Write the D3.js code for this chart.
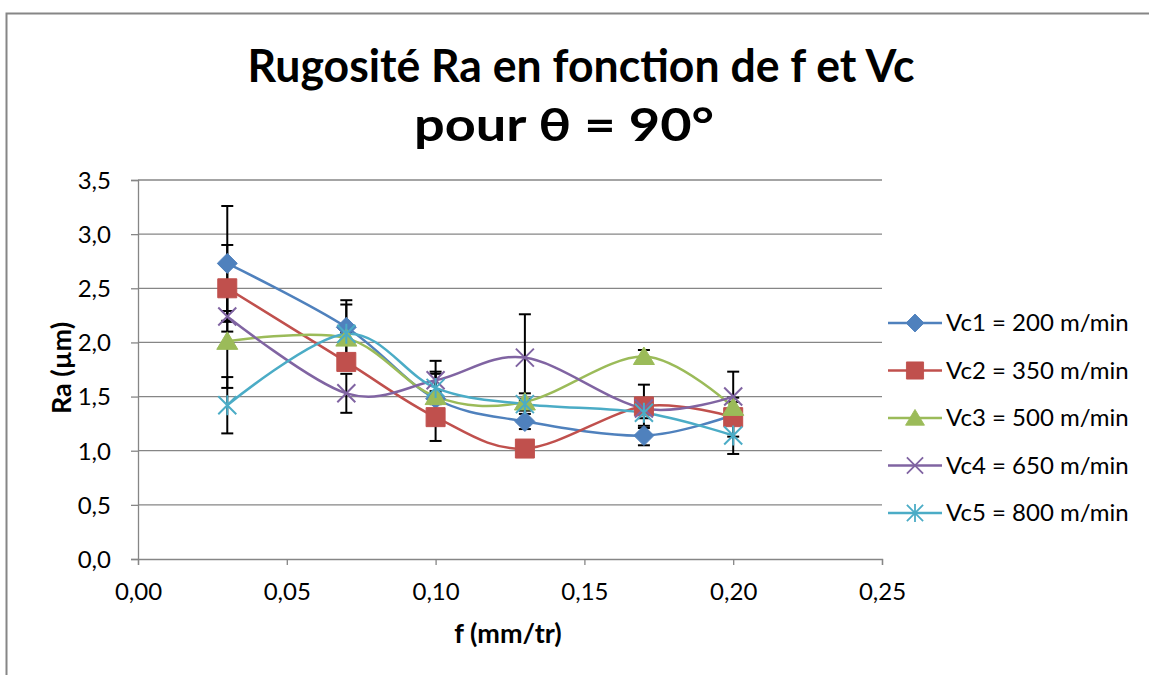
<!DOCTYPE html>
<html>
<head>
<meta charset="utf-8">
<script src="https://cdn.jsdelivr.net/npm/d3@7"></script>
<style>
  html, body { margin: 0; background: #fff; overflow: hidden; }
  svg { display: block; font-family: Lato, "Open Sans", sans-serif; }
</style>
</head>
<body>
<svg id="chart" width="1149" height="675"></svg>
<script>
// feed rate (mm/tr)
const feeds = [0.03, 0.07, 0.10, 0.13, 0.17, 0.20];

// Ra values per cutting speed
const vc1 = [2.73, 2.14, 1.48, 1.27, 1.14, 1.33];
const vc2 = [2.50, 1.82, 1.31, 1.02, 1.41, 1.31];
const vc3 = [2.01, 2.04, 1.50, 1.45, 1.87, 1.40];
const vc4 = [2.24, 1.53, 1.65, 1.86, 1.39, 1.50];
const vc5 = [1.42, 2.08, 1.58, 1.43, 1.35, 1.14];

// error bar half-widths
const err1 = [0.53, 0.25, 0.23, 0.07, 0.09, 0.05];
const err2 = [0.40, 0.05, 0.22, 0.03, 0.20, 0.18];
const err3 = [0.43, 0.05, 0.05, 0.08, 0.06, 0.05];
const err4 = [0.05, 0.18, 0.18, 0.40, 0.05, 0.23];
const err5 = [0.26, 0.27, 0.15, 0.05, 0.05, 0.17];

const seriesNames = ['Vc1 = 200 m/min', 'Vc2 = 350 m/min', 'Vc3 = 500 m/min', 'Vc4 = 650 m/min', 'Vc5 = 800 m/min'];
const seriesColors = ['#4F81BD', '#C0504D', '#9BBB59', '#8064A2', '#4BACC6'];
const seriesMarkers = ['diamond', 'square', 'triangle', 'cross', 'star'];

const xTicks = [0, 0.05, 0.10, 0.15, 0.20, 0.25];
const yTicks = [0, 0.5, 1.0, 1.5, 2.0, 2.5, 3.0, 3.5];

const values = [vc1, vc2, vc3, vc4, vc5];
const errors = [err1, err2, err3, err4, err5];
const series = seriesNames.map((name, i) => ({
    name: name,
    color: seriesColors[i],
    marker: seriesMarkers[i],
    points: feeds.map((f, j) => ({x: f, y: values[i][j], e: errors[i][j]}))
}));

const svg = d3.select('#chart');
const margin = {left: 138, right: 267, top: 180, bottom: 116};
const width = 1149, height = 675;

const x = d3.scaleLinear().domain([0, 0.25]).range([margin.left, width - margin.right]);
const y = d3.scaleLinear().domain([0, 3.5]).range([height - margin.bottom, margin.top]);
const fmt = (d, n) => d.toFixed(n).replace('.', ',');
const grey = '#868686';

// chart frame (runs off the bottom/right edge like the screenshot)
svg.append('path')
    .attr('d', 'M6.5,680 L6.5,13.5 L1155,13.5')
    .attr('fill', 'none').attr('stroke', grey).attr('stroke-width', 2);

// title
const title = svg.append('text').attr('text-anchor', 'middle')
    .attr('font-weight', 'bold').attr('font-size', 45).attr('fill', '#000');
title.append('tspan').attr('x', 581).attr('y', 82)
    .attr('textLength', 667).attr('lengthAdjust', 'spacingAndGlyphs')
    .text('Rugosité Ra en fonction de f et Vc');
title.append('tspan').attr('x', 564).attr('y', 141)
    .attr('textLength', 300).attr('lengthAdjust', 'spacingAndGlyphs')
    .text('pour θ = 90°');

// horizontal gridlines
svg.append('g').selectAll('line').data(yTicks.slice(1)).join('line')
    .attr('x1', x(0)).attr('x2', x(0.25))
    .attr('y1', d => y(d)).attr('y2', d => y(d))
    .attr('stroke', grey).attr('stroke-width', 1.3);

// axes
const yAxis = svg.append('g').attr('transform', `translate(${x(0)},0)`)
    .call(d3.axisLeft(y).tickValues(yTicks).tickSize(7).tickPadding(20).tickFormat(d => fmt(d, 1)));
const xAxis = svg.append('g').attr('transform', `translate(0,${y(0)})`)
    .call(d3.axisBottom(x).tickValues(xTicks).tickSize(6).tickPadding(18).tickFormat(d => fmt(d, 2)));
[xAxis, yAxis].forEach(a => {
    a.select('.domain').attr('stroke', grey).attr('stroke-width', 1.3);
    a.selectAll('.tick line').attr('stroke', grey).attr('stroke-width', 1.3);
    a.selectAll('.tick text').attr('fill', '#000').attr('font-size', 24).attr('font-family', 'Lato, sans-serif');
});
yAxis.selectAll('.tick text').attr('dy', '0.35em');

// axis titles
svg.append('text').attr('x', 508).attr('y', 643).attr('text-anchor', 'middle')
    .attr('font-weight', 'bold').attr('font-size', 27).text('f (mm/tr)');
svg.append('text').attr('transform', 'translate(71,368) rotate(-90)').attr('text-anchor', 'middle')
    .attr('font-weight', 'bold').attr('font-size', 27).text('Ra (µm)');

// marker shapes
function markerPath(type) {
    switch (type) {
        case 'diamond': return 'M0,-10 L10,0 L0,10 L-10,0 Z';
        case 'square': return 'M-9.5,-9.5 H9.5 V9.5 H-9.5 Z';
        case 'triangle': return 'M0,-9.5 L10.5,8 L-10.5,8 Z';
        case 'cross': return 'M-9,-9 L9,9 M-9,9 L9,-9';
        case 'star': return 'M-9,-9 L9,9 M-9,9 L9,-9 M0,-10 L0,10';
    }
}
const filled = t => t !== 'cross' && t !== 'star';

function drawMarker(g, s) {
    g.append('path').attr('d', markerPath(s.marker))
        .attr('fill', filled(s.marker) ? s.color : 'none')
        .attr('stroke', s.color)
        .attr('stroke-width', filled(s.marker) ? 1 : 2);
}

// error bars
const errG = svg.append('g').attr('stroke', '#000').attr('stroke-width', 2);
series.forEach(s => {
    s.points.forEach(p => {
        const cx = x(p.x);
        errG.append('line').attr('x1', cx).attr('x2', cx).attr('y1', y(p.y + p.e)).attr('y2', y(p.y - p.e));
        [p.y + p.e, p.y - p.e].forEach(v => {
            errG.append('line').attr('x1', cx - 6).attr('x2', cx + 6).attr('y1', y(v)).attr('y2', y(v));
        });
    });
});

// smoothed lines and markers
const line = d3.line().x(d => x(d.x)).y(d => y(d.y)).curve(d3.curveCardinal.tension(0));
series.forEach(s => {
    svg.append('path').datum(s.points).attr('d', line)
        .attr('fill', 'none').attr('stroke', s.color).attr('stroke-width', 2.5);
});
series.forEach(s => {
    s.points.forEach(p => {
        const g = svg.append('g').attr('transform', `translate(${x(p.x)},${y(p.y)})`);
        drawMarker(g, s);
    });
});

// legend
const legend = svg.append('g');
series.forEach((s, i) => {
    const ly = 323 + i * 47.5;
    const g = legend.append('g').attr('transform', `translate(888,${ly})`);
    g.append('line').attr('x1', 0).attr('x2', 54).attr('stroke', s.color).attr('stroke-width', 2.5);
    const m = g.append('g').attr('transform', 'translate(27,0) scale(0.9)');
    drawMarker(m, s);
    g.append('text').attr('x', 58).attr('dy', '0.35em').attr('font-size', 24).text(s.name);
});
</script>
</body>
</html>
